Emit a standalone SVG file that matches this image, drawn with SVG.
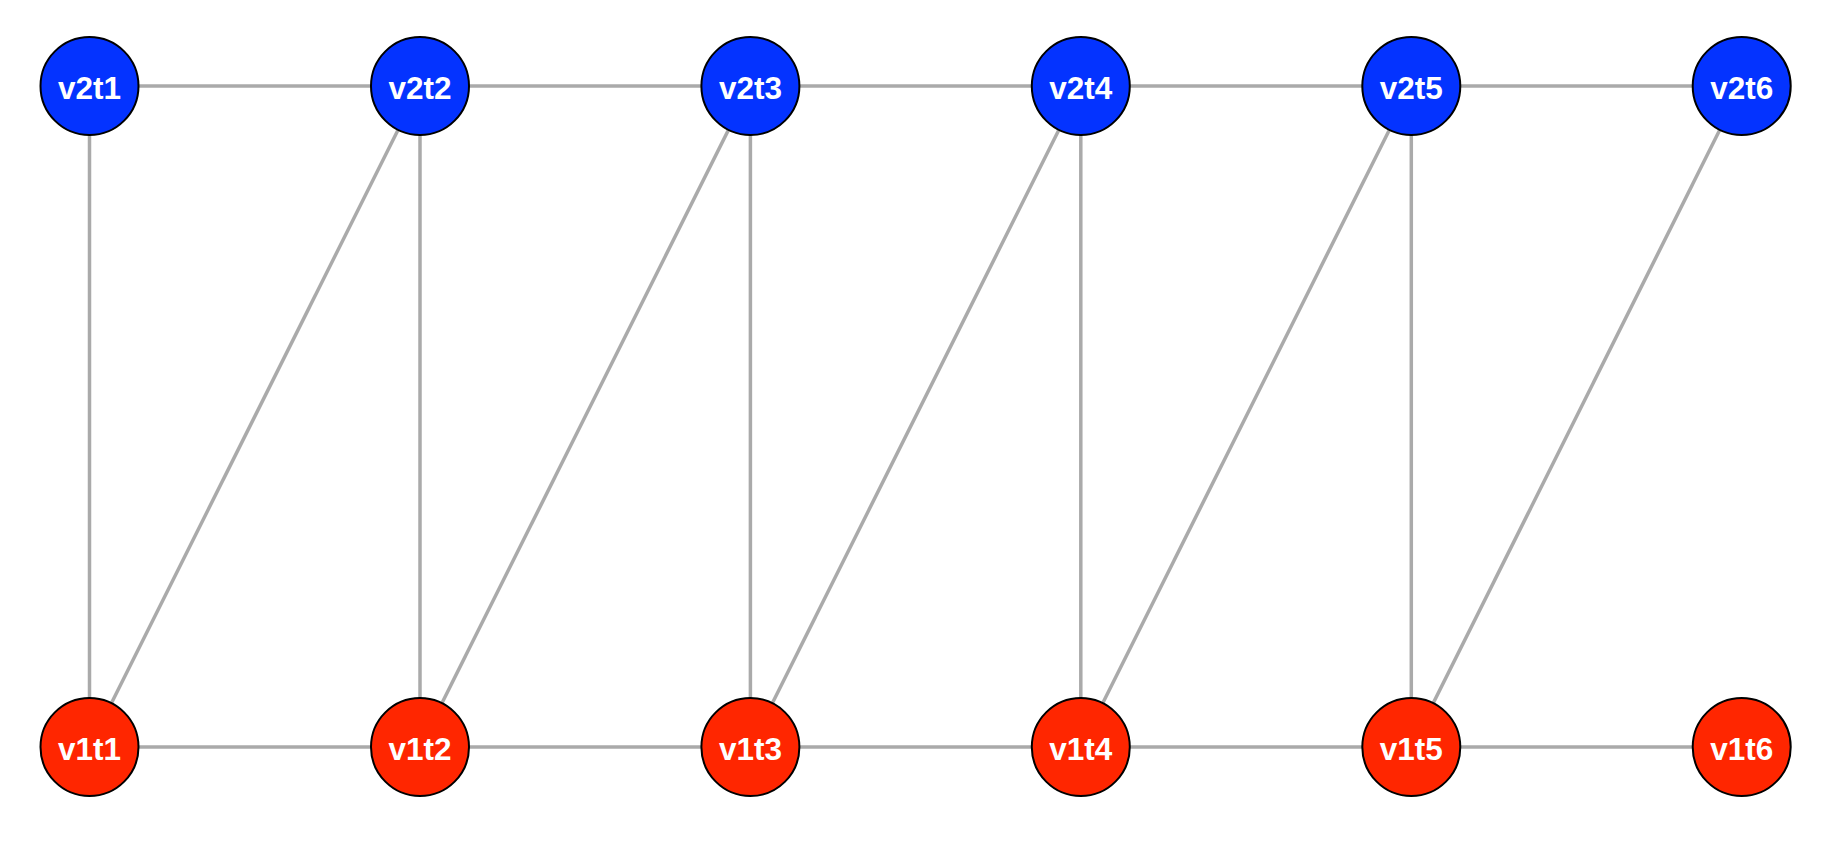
<svg xmlns="http://www.w3.org/2000/svg" width="1828" height="844" viewBox="0 0 1828 844">
<style>
.e{stroke:#aaaaaa;stroke-width:3.5;fill:none}
.n circle{stroke:#000;stroke-width:2}
.b circle{fill:#0433ff}
.r circle{fill:#ff2600}
.n text{font-family:"Liberation Sans",Arial,sans-serif;font-weight:bold;font-size:31.5px;fill:#fff;text-anchor:middle}
</style>
<rect width="1828" height="844" fill="#fff"/>
<g id="edges">
<line class="e" x1="89.5" y1="86" x2="1741.7" y2="86"/>
<line class="e" x1="89.5" y1="747" x2="1741.7" y2="747"/>
<line class="e" x1="89.5" y1="86" x2="89.5" y2="747"/>
<line class="e" x1="420" y1="86" x2="420" y2="747"/>
<line class="e" x1="750.4" y1="86" x2="750.4" y2="747"/>
<line class="e" x1="1080.8" y1="86" x2="1080.8" y2="747"/>
<line class="e" x1="1411.3" y1="86" x2="1411.3" y2="747"/>
<line class="e" x1="420" y1="86" x2="89.5" y2="747"/>
<line class="e" x1="750.4" y1="86" x2="420" y2="747"/>
<line class="e" x1="1080.8" y1="86" x2="750.4" y2="747"/>
<line class="e" x1="1411.3" y1="86" x2="1080.8" y2="747"/>
<line class="e" x1="1741.7" y1="86" x2="1411.3" y2="747"/>
</g>
<g id="v2t1" class="n b"><circle cx="89.5" cy="86" r="49"/><text x="89.5" y="99">v2t1</text></g>
<g id="v2t2" class="n b"><circle cx="420" cy="86" r="49"/><text x="420" y="99">v2t2</text></g>
<g id="v2t3" class="n b"><circle cx="750.4" cy="86" r="49"/><text x="750.4" y="99">v2t3</text></g>
<g id="v2t4" class="n b"><circle cx="1080.8" cy="86" r="49"/><text x="1080.8" y="99">v2t4</text></g>
<g id="v2t5" class="n b"><circle cx="1411.3" cy="86" r="49"/><text x="1411.3" y="99">v2t5</text></g>
<g id="v2t6" class="n b"><circle cx="1741.7" cy="86" r="49"/><text x="1741.7" y="99">v2t6</text></g>
<g id="v1t1" class="n r"><circle cx="89.5" cy="747" r="49"/><text x="89.5" y="760">v1t1</text></g>
<g id="v1t2" class="n r"><circle cx="420" cy="747" r="49"/><text x="420" y="760">v1t2</text></g>
<g id="v1t3" class="n r"><circle cx="750.4" cy="747" r="49"/><text x="750.4" y="760">v1t3</text></g>
<g id="v1t4" class="n r"><circle cx="1080.8" cy="747" r="49"/><text x="1080.8" y="760">v1t4</text></g>
<g id="v1t5" class="n r"><circle cx="1411.3" cy="747" r="49"/><text x="1411.3" y="760">v1t5</text></g>
<g id="v1t6" class="n r"><circle cx="1741.7" cy="747" r="49"/><text x="1741.7" y="760">v1t6</text></g>
</svg>
